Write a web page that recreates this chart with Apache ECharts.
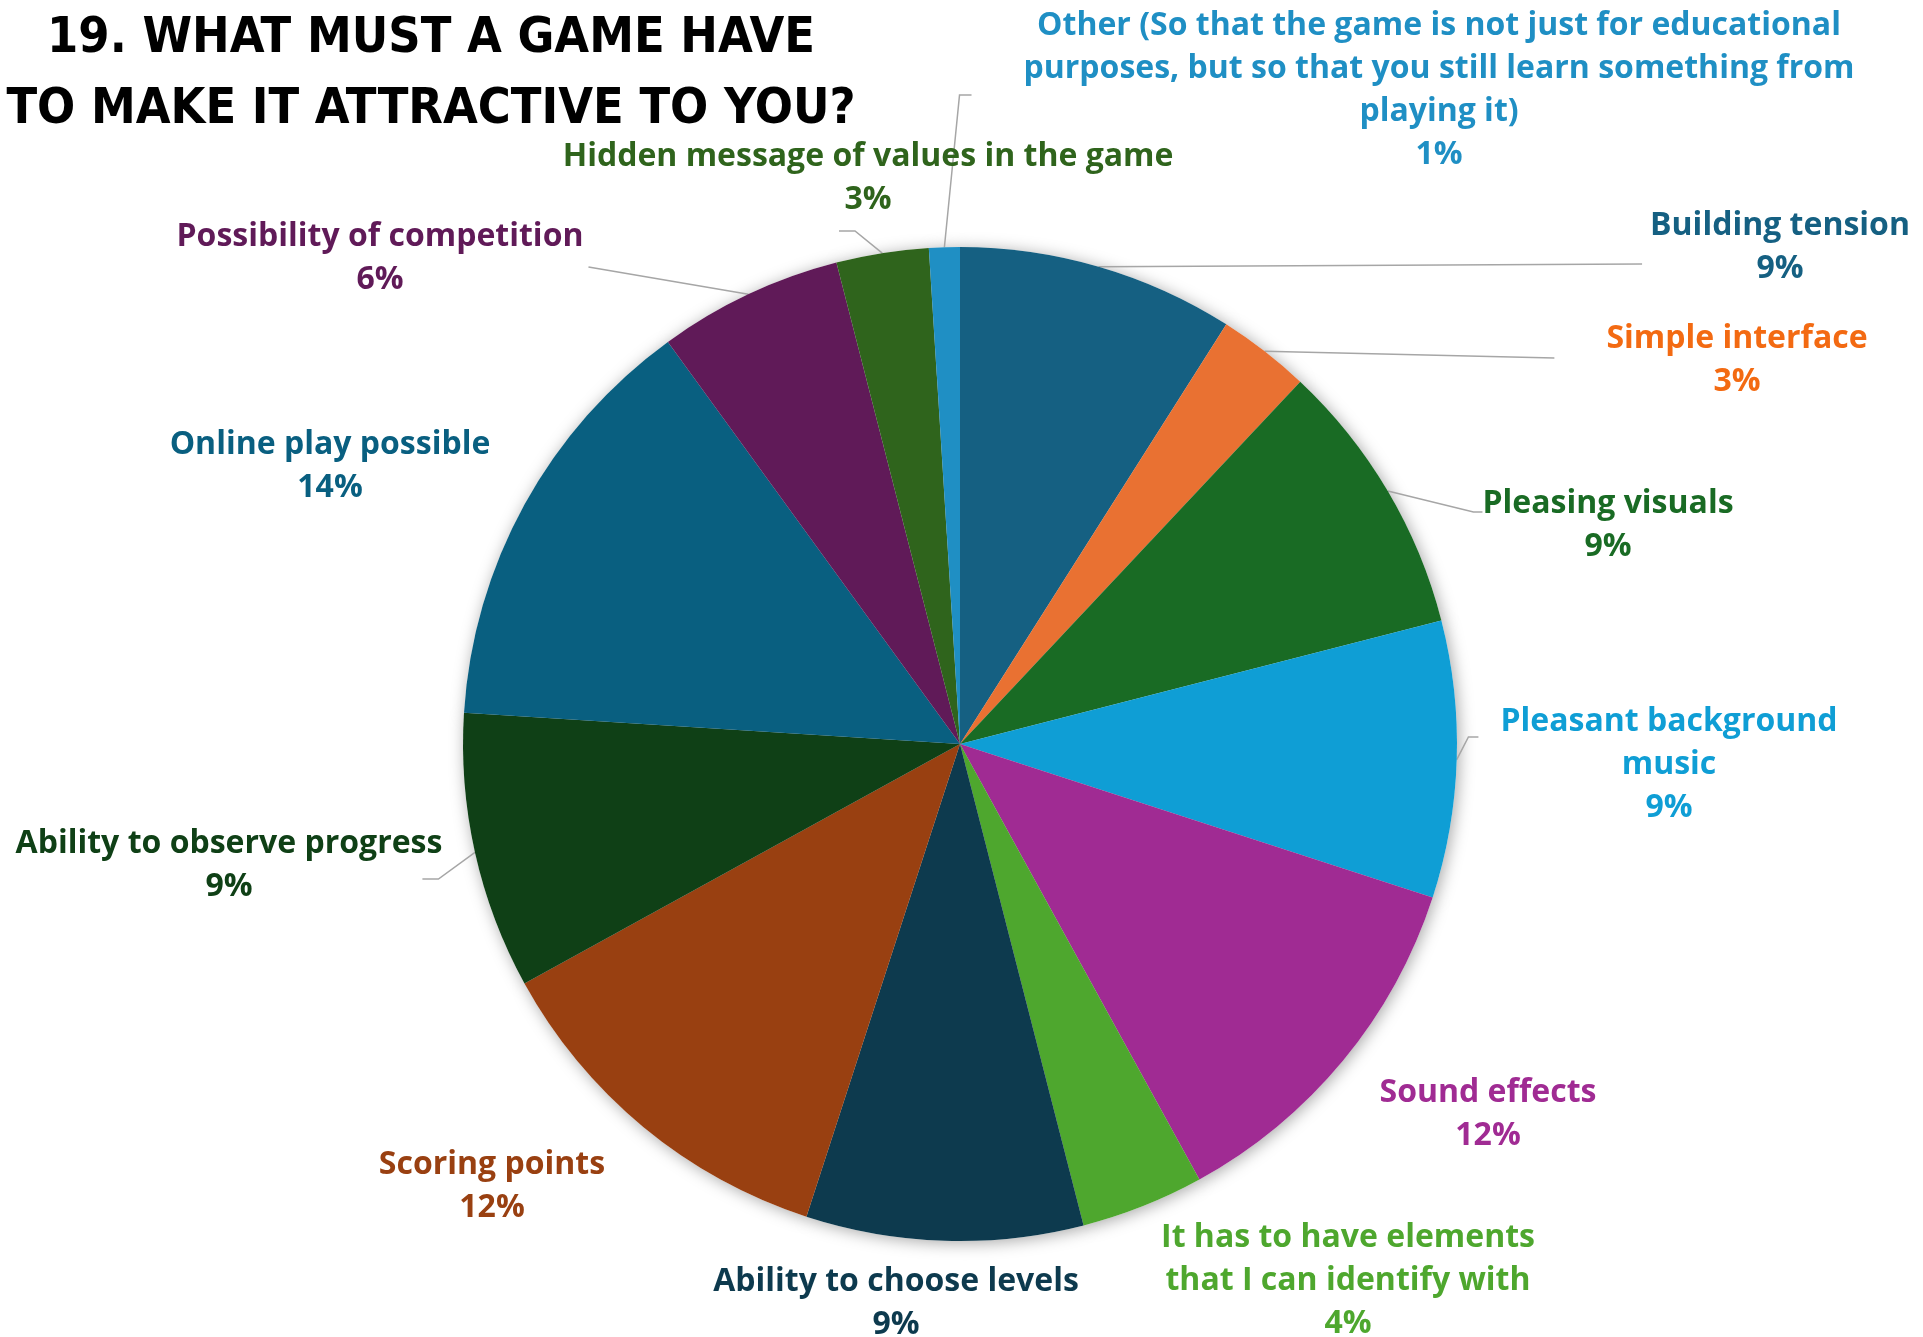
<!DOCTYPE html>
<html>
<head>
<meta charset="utf-8">
<script src="https://cdn.jsdelivr.net/npm/echarts@6/dist/echarts.min.js"></script>
<style>
  html, body { margin: 0; padding: 0; background: #ffffff; }
  #chart { width: 1923px; height: 1337px; }
</style>
</head>
<body>
<div id="chart"></div>
<script>
// Survey question 19: answer shares in percent, clockwise from 12 o'clock
const chartTitle = '19. WHAT MUST A GAME HAVE\nTO MAKE IT ATTRACTIVE TO YOU?';
const categories = [
  'Building tension',
  'Simple interface',
  'Pleasing visuals',
  'Pleasant background\nmusic',
  'Sound effects',
  'It has to have elements\nthat I can identify with',
  'Ability to choose levels',
  'Scoring points',
  'Ability to observe progress',
  'Online play possible',
  'Possibility of competition',
  'Hidden message of values in the game',
  'Other (So that the game is not just for educational\npurposes, but so that you still learn something from\nplaying it)'
];
const shares = [9, 3, 9, 9, 12, 4, 9, 12, 9, 14, 6, 3, 1];

// Slice fills and label text colours
const sliceColors = ['#156082', '#E97132', '#196B24', '#0F9ED5', '#A02B93', '#4EA72E',
                     '#0D3A4E', '#994011', '#0F4016', '#095F80', '#601A58', '#2F641C', '#1F8FC4'];
const labelColors = ['#156082', '#F36A12', '#196B24', '#0F9ED5', '#A02B93', '#4EA72E',
                     '#0D3A4E', '#994011', '#0F4016', '#095F80', '#601A58', '#2F641C', '#1F8FC4'];

// Label block centres (px)
const labelCentres = [
  [1780, 247], [1737, 360], [1608, 525], [1669, 765], [1488, 1114], [1348, 1281],
  [896, 1303], [492, 1186], [229, 865], [330, 466], [380, 258], [868, 178], [1439, 90]
];
// Guide-line attachment per label: [edge of label box, dx, dy from block centre, tail]
// null = no guide line. The tail is the short horizontal run before the label.
const guideAttach = [
  ['left', -8, 17, 0],
  ['left', -52, -2, 0],
  ['left', 0, -13, -9],
  ['left', -22, -28, -10],
  null, null, null, null,
  ['right', -20, 14, 16],
  null,
  ['right', 5, 9, 0],
  ['center', -29, 53, 16],
  ['left', -52, 5, -12]
];

const labelFont = "'Open Sans', 'Noto Sans', sans-serif";
const titleFont = "'DejaVu Sans Condensed', 'DejaVu Sans', sans-serif";
const pieCenter = [960, 744];
const pieRadius = 497;

const pieData = categories.map(function (name, i) {
  return {
    name: name,
    value: shares[i],
    itemStyle: { color: sliceColors[i] },
    label: { color: labelColors[i] },
    labelLine: guideAttach[i] ? { show: true, length: 10, length2: 10 } : { show: false }
  };
});

const chart = echarts.init(document.getElementById('chart'), null, { renderer: 'canvas' });

chart.setOption({
  backgroundColor: '#ffffff',
  animation: false,
  title: {
    text: chartTitle,
    left: 431,
    top: 4,
    padding: 0,
    textAlign: 'center',
    textVerticalAlign: 'top',
    textStyle: {
      fontFamily: titleFont,
      fontWeight: 'bold',
      fontSize: 50,
      lineHeight: 71,
      color: '#000000'
    }
  },
  series: [
    {
      // soft drop shadow under the whole disc
      type: 'pie',
      name: 'shadow',
      silent: true,
      z: 1,
      center: pieCenter,
      radius: pieRadius,
      startAngle: 90,
      clockwise: true,
      label: { show: false },
      labelLine: { show: false },
      emphasis: { disabled: true },
      itemStyle: {
        color: '#ffffff',
        shadowBlur: 16,
        shadowColor: 'rgba(0,0,0,0.35)',
        shadowOffsetX: 2,
        shadowOffsetY: 2
      },
      data: shares.map(function (v, i) { return { name: categories[i], value: v }; })
    },
    {
      type: 'pie',
      name: 'answers',
      z: 2,
      center: pieCenter,
      radius: pieRadius,
      startAngle: 90,
      clockwise: true,
      avoidLabelOverlap: false,
      percentPrecision: 0,
      emphasis: { disabled: true },
      itemStyle: { borderWidth: 0 },
      label: {
        show: true,
        position: 'outside',
        formatter: '{b}\n{d}%',
        fontFamily: labelFont,
        fontWeight: 'bold',
        fontSize: 32,
        lineHeight: 43,
        align: 'center'
      },
      labelLine: {
        lineStyle: { color: '#A6A6A6', width: 1.5 }
      },
      labelLayout: function (params) {
        const i = params.dataIndex;
        const c = labelCentres[i];
        const out = { x: c[0], y: c[1], align: 'center', verticalAlign: 'middle' };
        const g = guideAttach[i];
        const pts = params.labelLinePoints;
        if (g && pts && pts.length) {
          const w = params.labelRect.width;
          const base = g[0] === 'left' ? c[0] - w / 2 : g[0] === 'right' ? c[0] + w / 2 : c[0];
          const end = [base + g[1], c[1] + g[2]];
          const bend = [end[0] + g[3], end[1]];
          out.labelLinePoints = [pts[0].slice(), bend, end];
        }
        return out;
      },
      data: pieData
    }
  ]
});
</script>
</body>
</html>
